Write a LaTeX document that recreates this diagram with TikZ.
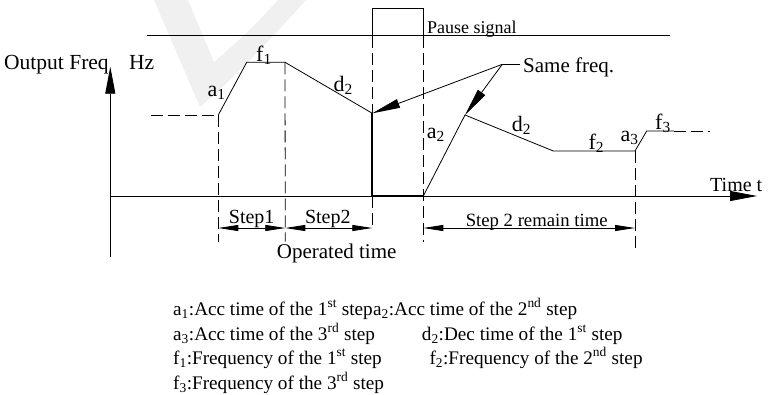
\documentclass[tikz,border=0pt]{standalone}
\usepackage{fontspec}
\setmainfont{Liberation Serif}
\usetikzlibrary{arrows.meta}
\tikzset{
  ln/.style={line width=0.8pt},
  dsh/.style={line width=0.8pt, dash pattern=on 12pt off 5pt},
  heavy/.style={line width=1.8pt},
  dimarrow/.style={line width=0.8pt, {Triangle[length=20pt,width=6pt]}-{Triangle[length=20pt,width=6pt]}},
  callout/.style={line width=0.8pt, -{Triangle[length=28pt,width=9pt]}},
  axisarrow/.style={line width=0.8pt, -{Triangle[length=27pt,width=10pt]}},
  txt/.style={inner sep=0pt, anchor=base west},
  ctxt/.style={inner sep=0pt, anchor=base},
  curvelbl/.style={inner sep=0pt, anchor=base west, font=\fontsize{22}{22}\selectfont},
  legend/.style={inner sep=0pt, anchor=base west, font=\fontsize{19.2}{19.2}\selectfont},
}
\begin{document}
\begin{tikzpicture}[x=1pt,y=-1pt]
\useasboundingbox (0,0) rectangle (769,394);
% watermark
\fill[gray!12] (154,0) -- (188,0) -- (214,62) .. controls (240,40) and (262,18) .. (278,0) -- (306,0) .. controls (270,40) and (232,80) .. (200,107) -- cycle;

% coordinates of the curve
\coordinate (P0) at (150.7,115);
\coordinate (P1) at (218.3,115);
\coordinate (P2) at (246.7,62.3);
\coordinate (P3) at (285,62.3);
\coordinate (P4) at (372.3,113.3);
\coordinate (P4a) at (372.3,196);
\coordinate (P5) at (423.3,196);
\coordinate (P6) at (465,115);
\coordinate (P7) at (553.3,151);
\coordinate (P8) at (635,151);
\coordinate (P9) at (646.7,131);
\coordinate (P10) at (674,131);
\coordinate (P11) at (710,131);

% axes
\coordinate (O) at (110.3,196);
\coordinate (Ybot) at (110.3,256.7);
\coordinate (Ytop) at (110.3,66.7);
\coordinate (Xend) at (757,196);
\draw[axisarrow] (Ybot) -- (Ytop);
\draw[axisarrow] (O) -- (Xend);

% pause signal
\coordinate (PL) at (147,35.7);
\coordinate (PR) at (670,35.7);
\draw[ln] (PL) -- (PR);
\draw[ln] (372.3,35.7) -- (372.3,8.3) -- (423.3,8.3) -- (423.3,35.7);
\node[txt, font=\fontsize{18}{18}\selectfont] (pause) at (427,33.5) {Pause signal};

% curve
\draw[dsh] (P0) -- (P1);
\draw[ln] (P1) -- (P2) -- (P3) -- (P4);
\draw[heavy] (P4) -- (P4a) -- (P5);
\draw[ln] (P5) -- (P6) -- (P7) -- (P8) -- (P9) -- (P10);
\draw[dsh] (P10) -- (P11);

% dashed verticals
\draw[dsh] (P1) -- (218.3,241.7);
\draw[dsh] (P3) -- (285.3,241.7);
\draw[dsh] (372.3,35.7) -- (P4);
\draw[dsh] (P4a) -- (372.3,229);
\draw[dsh] (423.3,35.7) -- (423.3,241.7);
\draw[dsh] (P8) -- (635,251.7);

% dimension arrows
\coordinate (D1) at (218.3,228);
\coordinate (D2) at (285.3,228);
\coordinate (D3) at (372.3,228);
\coordinate (D4) at (423.3,228);
\coordinate (D5) at (635,228);
\draw[dimarrow] (D1) -- (D2);
\draw[dimarrow] (D2) -- (D3);
\draw[dimarrow] (D4) -- (D5);
\node[ctxt, font=\fontsize{20}{20}\selectfont] (s1) at (251.7,223.3) {Step1};
\node[ctxt, font=\fontsize{20}{20}\selectfont] (s2) at (327.8,223.3) {Step2};
\node[ctxt, font=\fontsize{18.7}{18.7}\selectfont] (s3) at (536.7,226) {Step 2 remain time};
\node[ctxt, font=\fontsize{21}{21}\selectfont] (op) at (336.7,258.3) {Operated time};

% axis labels
\node[txt, font=\fontsize{21.5}{21.5}\selectfont] (yl) at (4,69) {Output Freq};
\node[txt, font=\fontsize{21.5}{21.5}\selectfont] (hz) at (129,69) {Hz};
\node[txt, font=\fontsize{20}{20}\selectfont] (tl) at (710,191.7) {Time t};

% same freq callout
\node[txt, font=\fontsize{21}{21}\selectfont] (sf) at (523,72.5) {Same freq.};
\coordinate (J) at (502.3,64.3);
\draw[ln] (J) -- (520,64.3);
\draw[callout] (J) -- (P4);
\draw[callout] (J) -- (P6);

% curve labels
\node[curvelbl] (la1) at (207.3,96.7) {a\textsubscript{1}};
\node[curvelbl] (lf1) at (256,61.7) {f\textsubscript{1}};
\node[curvelbl] (ld2a) at (333.3,91.7) {d\textsubscript{2}};
\node[curvelbl] (la2) at (426.7,138.3) {a\textsubscript{2}};
\node[curvelbl] (ld2b) at (511.7,131.7) {d\textsubscript{2}};
\node[curvelbl] (lf2) at (588.3,149.3) {f\textsubscript{2}};
\node[curvelbl] (la3) at (620.5,141) {a\textsubscript{3}};
\node[curvelbl] (lf3) at (655,129.3) {f\textsubscript{3}};

% legend
\node[legend] (g1) at (173,315) {a\textsubscript{1}:Acc time of the 1\textsuperscript{st} step};
\node[legend] (g1b) at (g1.base east) {a\textsubscript{2}:Acc time of the 2\textsuperscript{nd} step};
\node[legend] (g2) at (173,340) {a\textsubscript{3}:Acc time of the 3\textsuperscript{rd} step};
\node[legend] (g3) at (421.7,340) {d\textsubscript{2}:Dec time of the 1\textsuperscript{st} step};
\node[legend] (g4) at (173,364) {f\textsubscript{1}:Frequency of the 1\textsuperscript{st} step};
\node[legend] (g5) at (429.3,364) {f\textsubscript{2}:Frequency of the 2\textsuperscript{nd} step};
\node[legend] (g6) at (173,389) {f\textsubscript{3}:Frequency of the 3\textsuperscript{rd} step};
\end{tikzpicture}
\end{document}
